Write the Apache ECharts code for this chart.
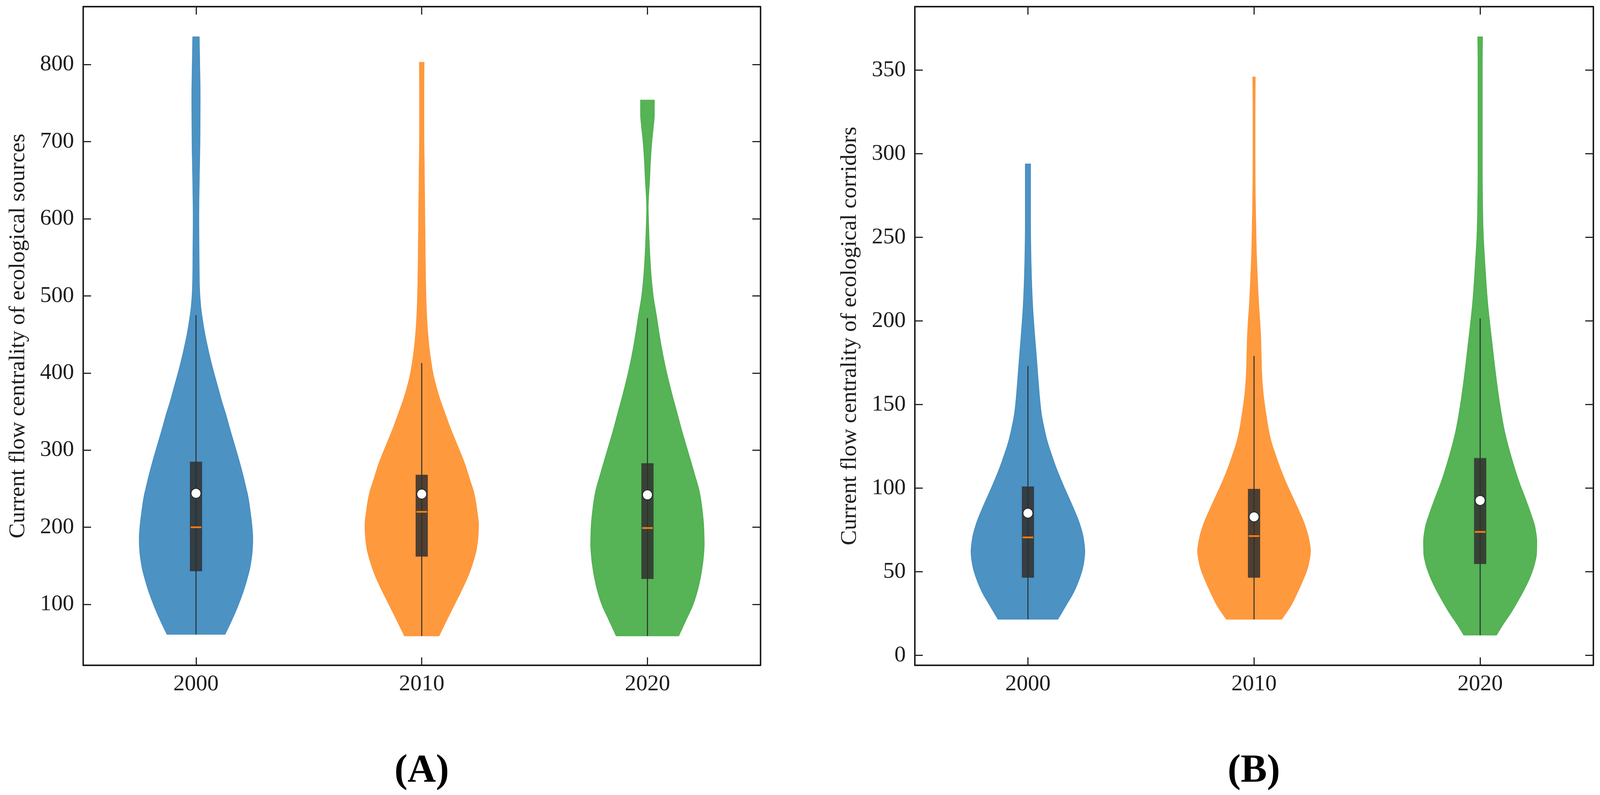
<!DOCTYPE html>
<html>
<head>
<meta charset="utf-8">
<title>Current flow centrality violins</title>
<script src="https://cdn.jsdelivr.net/npm/echarts@6/dist/echarts.min.js"></script>
<style>
  html, body { margin: 0; padding: 0; background: #fff; overflow: hidden; }
  #chart { width: 100vw; height: 100vh; }
</style>
</head>
<body>
<div id="chart"></div>
<script>
// Categories and tick labels
const years = ['2000', '2010', '2020'];
const sourcesTicks = [100, 200, 300, 400, 500, 600, 700, 800];
const corridorsTicks = [0, 50, 100, 150, 200, 250, 300, 350];

// Violin outlines, panel A (sources): value -> half width (share of one category band)
const sourcesValues2000 = [61, 75, 90, 100, 115, 132, 150, 170, 185, 200, 220, 238, 255, 274, 292, 310, 328, 346, 363, 381, 400, 417, 435, 452, 470, 488, 505, 524, 560, 600, 650, 700, 760, 800, 836];
const sourcesWidths2000 = [0.129, 0.152, 0.175, 0.189, 0.208, 0.226, 0.241, 0.250, 0.252, 0.249, 0.241, 0.232, 0.219, 0.203, 0.186, 0.168, 0.150, 0.133, 0.115, 0.098, 0.080, 0.065, 0.051, 0.039, 0.029, 0.021, 0.017, 0.015, 0.014, 0.013, 0.015, 0.018, 0.019, 0.017, 0.015];
const sourcesValues2010 = [59, 80, 100, 120, 139, 155, 172, 188, 203, 220, 244, 262, 283, 305, 328, 348, 367, 385, 400, 420, 439, 470, 500, 550, 606, 660, 717, 770, 803];
const sourcesWidths2010 = [0.077, 0.112, 0.146, 0.180, 0.209, 0.228, 0.243, 0.250, 0.252, 0.246, 0.232, 0.213, 0.190, 0.160, 0.128, 0.103, 0.080, 0.062, 0.050, 0.039, 0.031, 0.023, 0.019, 0.016, 0.014, 0.012, 0.010, 0.010, 0.011];
const sourcesValues2020 = [59, 80, 100, 120, 139, 160, 178, 200, 220, 244, 270, 300, 325, 350, 375, 400, 425, 450, 475, 500, 530, 560, 590, 615, 650, 680, 700, 720, 735, 754];
const sourcesWidths2020 = [0.139, 0.172, 0.203, 0.224, 0.238, 0.248, 0.252, 0.250, 0.244, 0.232, 0.208, 0.178, 0.153, 0.130, 0.107, 0.086, 0.068, 0.053, 0.040, 0.026, 0.016, 0.010, 0.006, 0.004, 0.010, 0.015, 0.020, 0.027, 0.031, 0.031];

// Violin outlines, panel B (corridors)
const corridorsValues2000 = [21.5, 30, 37.7, 45, 50.8, 56, 62, 70, 78.7, 87, 95, 103, 111.6, 120, 128, 136, 144.5, 153, 161, 177, 194, 210, 227, 245, 260, 280, 294];
const corridorsWidths2000 = [0.133, 0.170, 0.203, 0.226, 0.240, 0.248, 0.252, 0.246, 0.229, 0.205, 0.179, 0.153, 0.127, 0.105, 0.086, 0.072, 0.060, 0.053, 0.048, 0.039, 0.029, 0.021, 0.016, 0.013, 0.012, 0.012, 0.012];
const corridorsValues2010 = [21.5, 30, 37.7, 45, 50.8, 56, 62.3, 70, 78.7, 87, 95, 103, 111.6, 120, 128, 136, 144.5, 153, 161, 170, 180, 190, 200, 210, 227, 243, 260, 276, 300, 325, 346];
const corridorsWidths2010 = [0.123, 0.165, 0.193, 0.217, 0.234, 0.244, 0.250, 0.242, 0.223, 0.197, 0.170, 0.143, 0.117, 0.095, 0.076, 0.063, 0.053, 0.044, 0.038, 0.034, 0.032, 0.030, 0.026, 0.021, 0.015, 0.0105, 0.008, 0.006, 0.005, 0.005, 0.006];
const corridorsValues2020 = [12, 18, 25, 33, 40.5, 48, 55, 61, 68, 76, 85, 94, 104, 115, 125, 135, 148, 161, 174, 187, 200, 212, 225, 238, 250, 264, 290, 315, 340, 353, 370];
const corridorsWidths2020 = [0.073, 0.100, 0.135, 0.170, 0.200, 0.225, 0.242, 0.250, 0.251, 0.244, 0.224, 0.200, 0.172, 0.146, 0.125, 0.107, 0.090, 0.076, 0.064, 0.053, 0.042, 0.033, 0.026, 0.020, 0.015, 0.012, 0.010, 0.010, 0.010, 0.010, 0.011];

// Inner box statistics per year
const sourcesWhiskerLow = [61, 59, 59];
const sourcesQ1 = [143, 162, 133];
const sourcesMedian = [200, 220, 199];
const sourcesQ3 = [285, 268, 283];
const sourcesWhiskerHigh = [475, 413, 471];
const sourcesMean = [244, 243, 242];

const corridorsWhiskerLow = [21.5, 21.5, 12];
const corridorsQ1 = [46.4, 46.4, 54.6];
const corridorsMedian = [70.5, 71.3, 73.8];
const corridorsQ3 = [101, 99.5, 118];
const corridorsWhiskerHigh = [173, 179, 201.5];
const corridorsMean = [85, 82.8, 92.6];

const violinColors = ['rgba(31,119,180,0.8)', 'rgba(255,127,14,0.8)', 'rgba(44,160,44,0.8)'];
const ink = '#1e1e1e';
const serif = '"Liberation Serif", "DejaVu Serif", serif';

// layout is designed for 4234x2035 and scaled to the real viewport
const dom = document.getElementById('chart');
const chart = echarts.init(dom, null, { renderer: 'canvas' });
const sx = chart.getWidth() / 4234;
const sy = chart.getHeight() / 2035;
const sf = Math.min(sx, sy);

// Monotone cubic (Fritsch-Carlson) through the read outline points, no wiggles
function smoothOutline(xs, ys) {
  const n = xs.length;
  const h = [], d = [], m = new Array(n);
  for (let k = 0; k < n - 1; k++) {
    h.push(xs[k + 1] - xs[k]);
    d.push((ys[k + 1] - ys[k]) / h[k]);
  }
  m[0] = d[0];
  m[n - 1] = d[n - 2];
  for (let k = 1; k < n - 1; k++) {
    if (d[k - 1] * d[k] <= 0) {
      m[k] = 0;
    } else {
      const w1 = 2 * h[k] + h[k - 1], w2 = h[k] + 2 * h[k - 1];
      m[k] = (w1 + w2) / (w1 / d[k - 1] + w2 / d[k]);
    }
  }
  const out = [];
  for (let k = 0; k < n - 1; k++) {
    for (let s = 0; s < 8; s++) {
      const t = s / 8, t2 = t * t, t3 = t2 * t;
      const y = (2 * t3 - 3 * t2 + 1) * ys[k] + (t3 - 2 * t2 + t) * h[k] * m[k] +
                (-2 * t3 + 3 * t2) * ys[k + 1] + (t3 - t2) * h[k] * m[k + 1];
      out.push([xs[k] + t * h[k], Math.max(y, 0.002)]);
    }
  }
  out.push([xs[n - 1], ys[n - 1]]);
  return out;
}

// Violin body as a polygon built through the axes
function violinSeries(axisIndex, cat, values, widths) {
  const outline = smoothOutline(values, widths);
  return {
    type: 'custom',
    xAxisIndex: axisIndex,
    yAxisIndex: axisIndex,
    data: [[cat]],
    z: 2,
    silent: true,
    renderItem: (params, api) => {
      const c = api.value(0);
      const band = api.size([1, 0])[0];
      const left = [];
      const right = [];
      outline.forEach(([v, w]) => {
        const p = api.coord([c, v]);
        const hw = w * band;
        left.push([p[0] - hw, p[1]]);
        right.push([p[0] + hw, p[1]]);
      });
      return {
        type: 'polygon',
        shape: { points: left.concat(right.reverse()) },
        style: { fill: violinColors[c], stroke: violinColors[c], lineWidth: 1 }
      };
    }
  };
}

// Whisker, box, median and mean marker
function boxSeries(axisIndex, lo, q1, med, q3, hi, mean) {
  const rows = years.map((y, i) => [i, lo[i], q1[i], med[i], q3[i], hi[i], mean[i]]);
  return {
    type: 'custom',
    xAxisIndex: axisIndex,
    yAxisIndex: axisIndex,
    data: rows,
    z: 3,
    silent: true,
    renderItem: (params, api) => {
      const c = api.value(0);
      const band = api.size([1, 0])[0];
      const half = band * 0.027;
      const pLo = api.coord([c, api.value(1)]);
      const pQ1 = api.coord([c, api.value(2)]);
      const pMed = api.coord([c, api.value(3)]);
      const pQ3 = api.coord([c, api.value(4)]);
      const pHi = api.coord([c, api.value(5)]);
      const pMean = api.coord([c, api.value(6)]);
      return {
        type: 'group',
        children: [
          {
            type: 'line',
            shape: { x1: pLo[0], y1: pLo[1], x2: pHi[0], y2: pHi[1] },
            style: { stroke: '#2a2a2a', lineWidth: 2.5 * sf }
          },
          {
            type: 'rect',
            shape: { x: pQ3[0] - half, y: pQ3[1], width: half * 2, height: pQ1[1] - pQ3[1] },
            style: { fill: 'rgba(47,47,47,0.85)' }
          },
          {
            type: 'line',
            shape: { x1: pMed[0] - half + 2 * sf, y1: pMed[1], x2: pMed[0] + half - 2 * sf, y2: pMed[1] },
            style: { stroke: '#ff7f0e', lineWidth: 4.5 * sf }
          },
          {
            type: 'circle',
            shape: { cx: pMean[0], cy: pMean[1], r: 13 * sf },
            style: { fill: '#ffffff', stroke: '#222', lineWidth: 2 * sf }
          }
        ]
      };
    }
  };
}

function xAxes(gridIndex) {
  const base = {
    type: 'category',
    data: years,
    gridIndex: gridIndex,
    boundaryGap: true,
    axisLine: { show: true, onZero: false, lineStyle: { color: ink, width: 4 * sf } },
    axisTick: { show: true, inside: true, length: 21 * sf, alignWithLabel: true, lineStyle: { color: ink, width: 3 * sf } },
    splitLine: { show: false }
  };
  return [
    Object.assign({}, base, {
      position: 'bottom',
      axisLabel: { show: true, margin: 20 * sf, fontSize: 60 * sf, fontFamily: serif, color: ink }
    }),
    Object.assign({}, base, { position: 'top', axisLabel: { show: false } })
  ];
}

function yAxes(gridIndex, min, max, ticks, name) {
  const base = {
    type: 'value',
    gridIndex: gridIndex,
    min: min,
    max: max,
    axisLine: { show: true, onZero: false, lineStyle: { color: ink, width: 4 * sf } },
    axisTick: { show: true, inside: true, length: 21 * sf, customValues: ticks, lineStyle: { color: ink, width: 3 * sf } },
    splitLine: { show: false }
  };
  return [
    Object.assign({}, base, {
      position: 'left',
      name: name,
      nameLocation: 'middle',
      nameGap: 142 * sx,
      nameTextStyle: { fontSize: 60 * sf, fontFamily: serif, color: ink },
      axisLabel: { show: true, customValues: ticks, margin: 24 * sx, fontSize: 60 * sf, fontFamily: serif, color: ink }
    }),
    Object.assign({}, base, { position: 'right', axisLabel: { show: false } })
  ];
}

const option = {
  backgroundColor: '#ffffff',
  animation: false,
  grid: [
    { left: 220 * sx, top: 17 * sy, width: 1792 * sx, height: 1686 * sy },
    { left: 2421 * sx, top: 17 * sy, width: 1795 * sx, height: 1686 * sy }
  ],
  xAxis: xAxes(0).concat(xAxes(1)),
  yAxis: yAxes(0, 21, 875, sourcesTicks, 'Current flow centrality of ecological sources')
    .concat(yAxes(1, -6, 388, corridorsTicks, 'Current flow centrality of ecological corridors')),
  series: [
    violinSeries(0, 0, sourcesValues2000, sourcesWidths2000),
    violinSeries(0, 1, sourcesValues2010, sourcesWidths2010),
    violinSeries(0, 2, sourcesValues2020, sourcesWidths2020),
    boxSeries(0, sourcesWhiskerLow, sourcesQ1, sourcesMedian, sourcesQ3, sourcesWhiskerHigh, sourcesMean),
    violinSeries(2, 0, corridorsValues2000, corridorsWidths2000),
    violinSeries(2, 1, corridorsValues2010, corridorsWidths2010),
    violinSeries(2, 2, corridorsValues2020, corridorsWidths2020),
    boxSeries(2, corridorsWhiskerLow, corridorsQ1, corridorsMedian, corridorsQ3, corridorsWhiskerHigh, corridorsMean)
  ],
  graphic: [
    {
      type: 'text', x: 1116 * sx, y: 1975 * sy,
      style: { text: '(A)', fontSize: 104 * sf, fontWeight: 'bold', fontFamily: serif, fill: '#000', align: 'center', verticalAlign: 'middle' }
    },
    {
      type: 'text', x: 3318 * sx, y: 1975 * sy,
      style: { text: '(B)', fontSize: 104 * sf, fontWeight: 'bold', fontFamily: serif, fill: '#000', align: 'center', verticalAlign: 'middle' }
    }
  ]
};

chart.setOption(option);
window.addEventListener('resize', () => chart.resize());
</script>
</body>
</html>
